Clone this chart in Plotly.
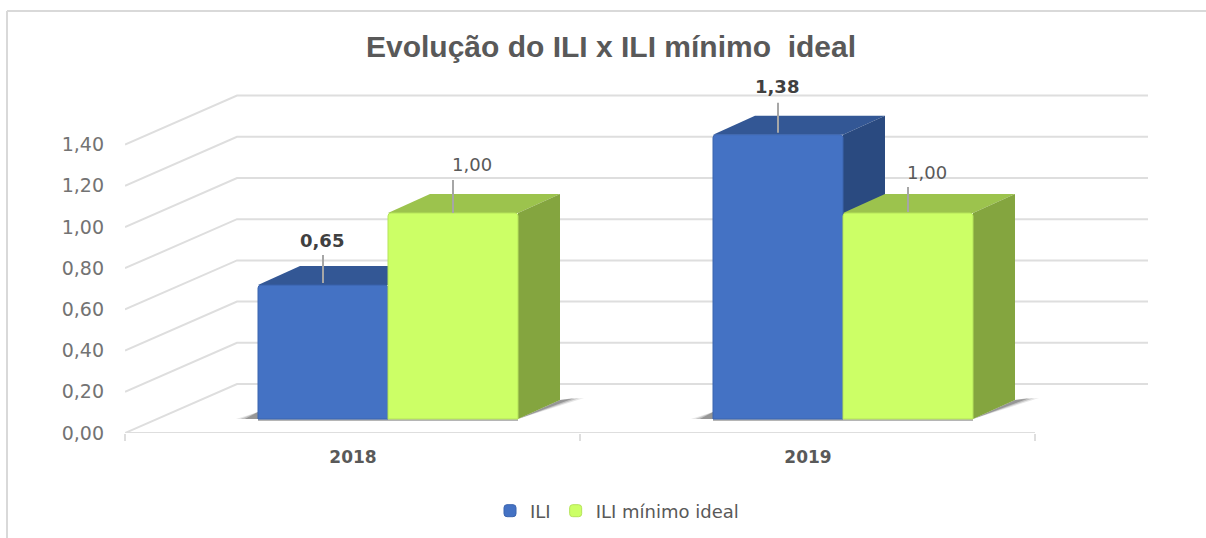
import plotly.graph_objects as go

# ---- data ----
categories = ["2018", "2019"]
ili_values = [0.65, 1.38]
ideal_values = [1.00, 1.00]
y_ticks = [0.0, 0.2, 0.4, 0.6, 0.8, 1.0, 1.2, 1.4]
y_tick_labels = ["0,00", "0,20", "0,40", "0,60", "0,80", "1,00", "1,20", "1,40"]
ili_labels = ["0,65", "1,38"]
ideal_labels = ["1,00", "1,00"]

# ---- layout geometry (pixels) ----
W, H = 1206, 538
L, R, T, B = 125, 1150, 85, 433
PX_CAT = 455.0     # pixels per category
PX_VAL = 206.0     # pixels per unit value
CENTER0 = 353      # axis category centre
BAR_CENTER0 = 388  # drawn bar-group centre
BAR_BASE = 419     # pixel of bar base
BAR_W = 130 / PX_CAT
DEPTH_X = 42 / PX_CAT
DEPTH_Y = 19 / PX_VAL
WALL_X = 112 / PX_CAT
WALL_Y = 49 / PX_VAL
OFF_X = (BAR_CENTER0 - CENTER0) / PX_CAT
OFF_Y = (B - BAR_BASE) / PX_VAL
n = len(categories)
xs = list(range(n))

fig = go.Figure()


def poly(px, py, color, width=0, line_color=None):
    fig.add_trace(go.Scatter(
        x=px, y=py, mode="lines", fill="toself", fillcolor=color,
        line=dict(width=width, color=line_color or color),
        hoverinfo="skip", showlegend=False, xaxis="x", yaxis="y"))


# walls: floor/side diagonals and back-wall lines
x_left = -(CENTER0 - L) / PX_CAT
x_end_front = x_left + 2
x_right = (1148 - CENTER0) / PX_CAT
for v in y_ticks:
    fig.add_trace(go.Scatter(
        x=[x_left, x_left + WALL_X, x_right], y=[v, v + WALL_Y, v + WALL_Y],
        mode="lines", line=dict(color="#DEDEDE", width=2),
        hoverinfo="skip", showlegend=False, cliponaxis=False))
fig.add_trace(go.Scatter(
    x=[x_left, x_end_front], y=[0, 0], mode="lines",
    line=dict(color="#DEDEDE", width=2),
    hoverinfo="skip", showlegend=False, cliponaxis=False))

# shadows on the floor and 3D faces, in series order
for i in xs:
    cx = i + OFF_X
    left, right = cx - BAR_W, cx + BAR_W
    for frac, col in [(1.0, "rgba(120,120,120,0.18)"),
                      (0.8, "rgba(100,100,100,0.28)"),
                      (0.6, "rgba(80,80,80,0.38)")]:
        poly([right, right + DEPTH_X, right + DEPTH_X + 24 * frac / PX_CAT, right],
             [OFF_Y, OFF_Y + DEPTH_Y, OFF_Y + DEPTH_Y + 2 / PX_VAL, OFF_Y], col)
        poly([left, left, left - 22 * frac / PX_CAT, left],
             [OFF_Y, OFF_Y + 7 / PX_VAL, OFF_Y, OFF_Y], col)
    poly([left, right, right, left],
         [OFF_Y - 2 / PX_VAL, OFF_Y - 2 / PX_VAL, OFF_Y, OFF_Y], "rgba(90,90,90,0.45)")

for i in xs:
    for series, sign, top_c, side_c in [
        (ili_values, -1, "#335795", "#2A4A80"),
        (ideal_values, 1, "#9CC34D", "#84A53F"),
    ]:
        v = series[i] + OFF_Y
        x0 = i + OFF_X + (sign - 1) / 2 * BAR_W
        x1 = x0 + BAR_W
        poly([x0, x0 + DEPTH_X, x1 + DEPTH_X, x1, x0],
             [v, v + DEPTH_Y, v + DEPTH_Y, v, v], top_c)
        poly([x1, x1 + DEPTH_X, x1 + DEPTH_X, x1, x1],
             [OFF_Y, OFF_Y + DEPTH_Y, v + DEPTH_Y, v, OFF_Y], side_c)

# front faces
fig.add_trace(go.Bar(
    x=xs, y=ili_values, name="ILI", xaxis="x2", yaxis="y2",
    marker=dict(color="#4472C4", line=dict(color="#3B64AE", width=1), cornerradius=3),
    hoverinfo="skip"))
fig.add_trace(go.Bar(
    x=xs, y=ideal_values, name="ILI mínimo ideal", xaxis="x2", yaxis="y2",
    marker=dict(color="#CCFF66", line=dict(color="#B5E35A", width=1), cornerradius=3),
    hoverinfo="skip"))

# leader lines and value labels
annotations = []
label_specs = [
    (ili_labels, ili_values, -1, True, 0, [[2, 30, 45], [2, 32, 48]]),
    (ideal_labels, ideal_values, 1, False, 20, [[0, 33, 49], [1, 26, 41]]),
]
for labels, vals, sign, bold, shift, offs in label_specs:
    for i in xs:
        cx = i + sign * BAR_W / 2
        lo, hi, lab = offs[i]
        fig.add_trace(go.Scatter(
            x=[cx, cx], y=[vals[i] + lo / PX_VAL, vals[i] + hi / PX_VAL],
            mode="lines", line=dict(color="#A6A6A6", width=2),
            hoverinfo="skip", showlegend=False, xaxis="x2", yaxis="y2", cliponaxis=False))
        annotations.append(dict(
            xref="x2", yref="y2", x=cx, y=vals[i], yshift=lab, xshift=shift - 1,
            text=f"<b>{labels[i]}</b>" if bold else labels[i], showarrow=False,
            xanchor="center", yanchor="middle",
            font=dict(family="DejaVu Sans", size=18, color="#404040" if bold else "#595959")))


def px_x(p):
    return (p - L) / (R - L)


def px_y(p):
    return (B - p) / (B - T)


frame = [
    dict(type="line", xref="paper", yref="paper", x0=px_x(7), x1=px_x(7),
         y0=px_y(11), y1=px_y(538), line=dict(color="#D9D9D9", width=2)),
    dict(type="line", xref="paper", yref="paper", x0=px_x(7), x1=px_x(1206),
         y0=px_y(11), y1=px_y(11), line=dict(color="#D9D9D9", width=2)),
]

fig.update_layout(
    width=W, height=H, autosize=False,
    margin=dict(l=L, r=W - R, t=T, b=H - B, pad=0),
    paper_bgcolor="white", plot_bgcolor="white",
    barmode="group", bargap=1 - 2 * BAR_W, bargroupgap=0,
    title=dict(text="<b>Evolução do ILI x ILI mínimo  ideal</b>",
               x=611 / W, xanchor="center", xref="paper" if False else "container",
               y=1 - 46 / H, yanchor="middle",
               font=dict(family="Liberation Sans", size=30, color="#595959")),
    font=dict(family="DejaVu Sans"),
    xaxis=dict(range=[x_left, (R - CENTER0) / PX_CAT], tickmode="array", tickvals=xs,
               ticktext=[f"<b>{c}</b>" for c in categories], showgrid=False, zeroline=False,
               showline=False, ticks="", ticklabelstandoff=12,
               tickfont=dict(family="DejaVu Sans", size=17, color="#595959"),
               minor=dict(tickmode="array", tickvals=[x_left, x_left + 1, x_left + 2],
                          ticks="outside", ticklen=7, tickwidth=2, tickcolor="#DEDEDE",
                          showgrid=False),
               fixedrange=True),
    yaxis=dict(range=[0, (B - T) / PX_VAL], tickmode="array", tickvals=y_ticks,
               ticktext=y_tick_labels, showgrid=False, zeroline=False, showline=False,
               ticks="", ticklabelstandoff=20,
               tickfont=dict(family="DejaVu Sans", size=19, color="#737373"),
               fixedrange=True),
    xaxis2=dict(range=[-(BAR_CENTER0 - L) / PX_CAT, (R - BAR_CENTER0) / PX_CAT],
                overlaying="x", visible=False, fixedrange=True),
    yaxis2=dict(range=[-(B - BAR_BASE) / PX_VAL, (BAR_BASE - T) / PX_VAL],
                overlaying="y", visible=False, fixedrange=True),
    legend=dict(orientation="h", x=617 / W, xref="container", xanchor="center",
                y=1 - 511 / H, yref="container", yanchor="middle",
                font=dict(family="DejaVu Sans", size=18, color="#595959"),
                itemwidth=30, bgcolor="rgba(0,0,0,0)"),
    annotations=annotations,
    shapes=frame,
)

fig.write_html("out.html", config=dict(displayModeBar=False),
               post_script="document.body.style.margin='0';")
